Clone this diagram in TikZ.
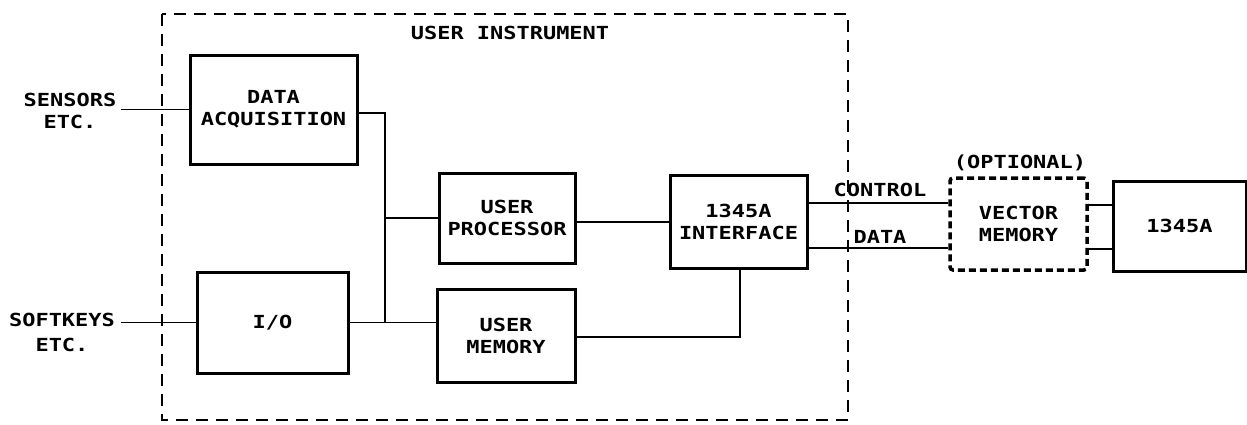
\documentclass[tikz,border=0pt]{standalone}
\usepackage{fontspec}
\setmainfont{DejaVu Sans Mono}[FakeStretch=1.22]
\begin{document}
\begin{tikzpicture}[x=1pt,y=-1pt,
  txt/.style={font=\fontsize{18}{22}\selectfont\bfseries, inner sep=0pt, align=center},
  blk/.style={draw, line width=3pt, txt},
  wire/.style={line width=1.5pt},
  bound/.style={line width=1.8pt, dash pattern=on 12pt off 8pt},
  optbox/.style={draw, line width=3.5pt, dash pattern=on 7pt off 4pt, rounded corners=3pt, txt}]
\useasboundingbox (0,0) rectangle (1247,424);
% boundary
\draw[bound] (162,14) rectangle (848,420);
\node[txt] (ui) at (510,33) {USER INSTRUMENT};
% blocks
\node[blk, minimum width=167pt, minimum height=109pt] (da) at (273.5,109.5) {DATA\\ACQUISITION};
\node[blk, minimum width=136pt, minimum height=90pt] (up) at (507,218) {USER\\PROCESSOR};
\node[blk, minimum width=137pt, minimum height=93pt] (if) at (738.5,221.5) {1345A\\INTERFACE};
\node[blk, minimum width=151pt, minimum height=101pt] (io) at (272.5,322.5) {I/O};
\node[blk, minimum width=138pt, minimum height=93pt] (um) at (506,335.5) {USER\\MEMORY};
\node[optbox, minimum width=137pt, minimum height=92pt] (vm) at (1018.5,224) {VECTOR\\MEMORY};
\node[blk, minimum width=133pt, minimum height=90pt] (r) at (1179.5,226) {1345A};
% labels
\node[txt] (sens) at (70,110.5) {SENSORS\\ETC.};
\node[txt] (sk) at (62,320) {SOFTKEYS};
\node[txt] at (62,345) {ETC.};
\node[txt] (opt) at (1020,163) {(OPTIONAL)};
\node[txt] (ctl) at (880,190) {CONTROL};
\node[txt] (dat) at (880,237) {DATA};
\coordinate (bus) at (385,200);
% connectors
\draw[wire] ([xshift=5pt]da.west -| sens.east) -- (da.west);
\draw[wire] (io.west) -- ([xshift=6pt]io.west -| sk.east);
\draw[wire] ([yshift=-3.5pt]da.east) -- ([yshift=-3.5pt]da.east -| bus) -- (io.east -| bus);
\draw[wire] (io.east) -- (io.east -| um.west);
\draw[wire] (up.west) -- (up.west -| bus);
\draw[wire] ([yshift=-4pt]up.east) -- ([yshift=-4pt]up.east -| if.west);
\draw[wire] ([yshift=-1.5pt]um.east) -| ([xshift=1.5pt]if.south);
\draw[wire] ([yshift=18.5pt]if.east) -- ([yshift=18.5pt]if.east -| vm.west);
\draw[wire] ([yshift=-26.5pt]if.east) -- ([yshift=-26.5pt]if.east -| vm.west);
\draw[wire] ([yshift=19pt]vm.east) -- ([yshift=19pt]vm.east -| r.west);
\draw[wire] ([yshift=-25pt]vm.east) -- ([yshift=-25pt]vm.east -| r.west);
\end{tikzpicture}
\end{document}
